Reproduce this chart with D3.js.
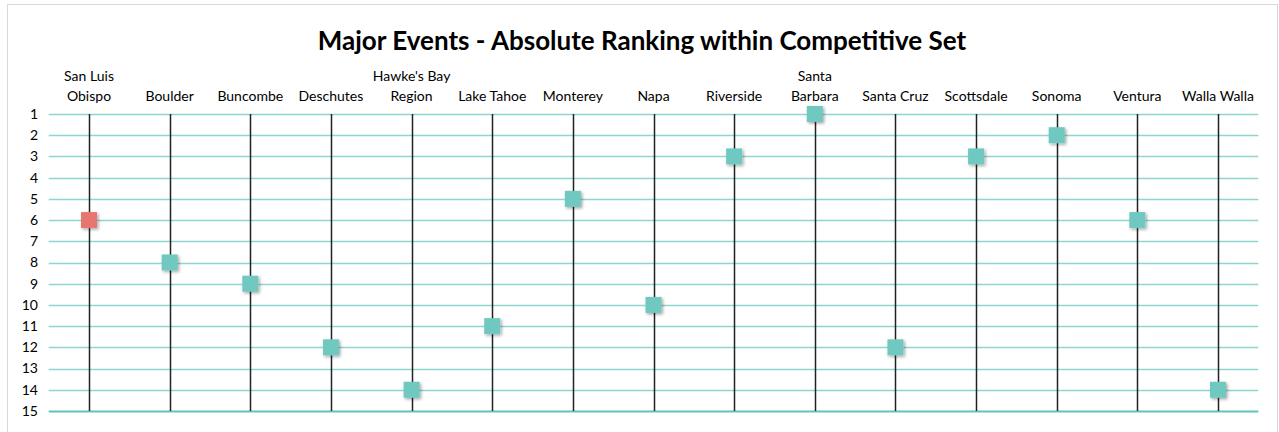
<!DOCTYPE html>
<html>
<head>
<meta charset="utf-8">
<script src="https://cdn.jsdelivr.net/npm/d3@7"></script>
<style>
  body { margin: 0; background: #fff; }
  svg { font-family: Lato, "Open Sans", sans-serif; }
</style>
</head>
<body>
<svg width="1279" height="432"></svg>
<script>
var regions = ['San Luis Obispo', 'Boulder', 'Buncombe', 'Deschutes', "Hawke's Bay Region",
  'Lake Tahoe', 'Monterey', 'Napa', 'Riverside', 'Santa Barbara', 'Santa Cruz',
  'Scottsdale', 'Sonoma', 'Ventura', 'Walla Walla'];
// label lines as shown in the chart
var regionLabels = [['San Luis', 'Obispo'], ['Boulder'], ['Buncombe'], ['Deschutes'], ["Hawke's Bay", 'Region'],
  ['Lake Tahoe'], ['Monterey'], ['Napa'], ['Riverside'], ['Santa', 'Barbara'], ['Santa Cruz'],
  ['Scottsdale'], ['Sonoma'], ['Ventura'], ['Walla Walla']];
var ranks = [6, 8, 9, 12, 14, 11, 5, 10, 3, 1, 12, 3, 2, 6, 14];
var rankTicks = d3.range(1, 16);
var highlight = 'San Luis Obispo';

var svg = d3.select('svg'),
  w = +svg.attr('width'),
  h = +svg.attr('height');

var plotLeft = 48.7, plotRight = 1258.3, plotTop = 114, plotBottom = 411;

// chart border
svg.append('rect')
  .attr('x', 7.5).attr('y', 4.5).attr('width', 1270).attr('height', 440)
  .attr('fill', '#fff').attr('stroke', '#d9d9d9');

var defs = svg.append('defs');
var f = defs.append('filter').attr('id', 'shadow').attr('x', '-50%').attr('y', '-50%')
  .attr('width', '200%').attr('height', '200%');
f.append('feDropShadow').attr('dx', 1.5).attr('dy', 1.5).attr('stdDeviation', 1.5)
  .attr('flood-color', '#000').attr('flood-opacity', 0.35);

svg.append('text')
  .attr('x', 642).attr('y', 50)
  .attr('text-anchor', 'middle')
  .style('font-size', '26px').style('font-weight', 'bold')
  .text('Major Events - Absolute Ranking within Competitive Set');

var x = d3.scaleBand().domain(regions).range([plotLeft, plotRight]);
var y = d3.scaleLinear().domain([1, 15]).range([plotTop, plotBottom]);

// horizontal gridlines
svg.append('g').selectAll('line')
  .data(rankTicks)
  .enter().append('line')
  .attr('x1', plotLeft).attr('x2', plotRight)
  .attr('y1', function(d) { return Math.round(y(d)) + 0.5; })
  .attr('y2', function(d) { return Math.round(y(d)) + 0.5; })
  .attr('stroke', function(d) { return d === 15 ? '#5fc4b8' : '#8fd6cd'; })
  .attr('stroke-width', function(d) { return d === 15 ? 2 : 1.5; });

// y labels
svg.append('g').selectAll('text')
  .data(rankTicks)
  .enter().append('text')
  .attr('x', 38).attr('y', function(d) { return y(d); })
  .attr('dy', '0.35em')
  .attr('text-anchor', 'end')
  .style('font-size', '14px')
  .text(function(d) { return d; });

// vertical drop lines
svg.append('g').selectAll('line')
  .data(regions)
  .enter().append('line')
  .attr('x1', function(d) { return Math.round(x(d) + x.bandwidth() / 2) + 0.5; })
  .attr('x2', function(d) { return Math.round(x(d) + x.bandwidth() / 2) + 0.5; })
  .attr('y1', plotTop).attr('y2', plotBottom)
  .attr('stroke', '#222').attr('stroke-width', 1.5);

// category labels
var lab = svg.append('g').selectAll('text')
  .data(regions)
  .enter().append('text')
  .attr('text-anchor', 'middle')
  .style('font-size', '14px');
lab.each(function(d, i) {
  var lines = regionLabels[i];
  var t = d3.select(this);
  lines.forEach(function(s, j) {
    t.append('tspan')
      .attr('x', x(d) + x.bandwidth() / 2)
      .attr('y', 101 - (lines.length - 1 - j) * 20)
      .text(s);
  });
});

// markers
var sz = 16;
svg.append('g').selectAll('rect')
  .data(regions)
  .enter().append('rect')
  .attr('x', function(d) { return x(d) + x.bandwidth() / 2 - sz / 2; })
  .attr('y', function(d, i) { return y(ranks[i]) - sz / 2; })
  .attr('width', sz).attr('height', sz)
  .attr('fill', function(d) { return d === highlight ? '#e8766f' : '#6fc9c0'; })
  .attr('filter', 'url(#shadow)');
</script>
</body>
</html>
